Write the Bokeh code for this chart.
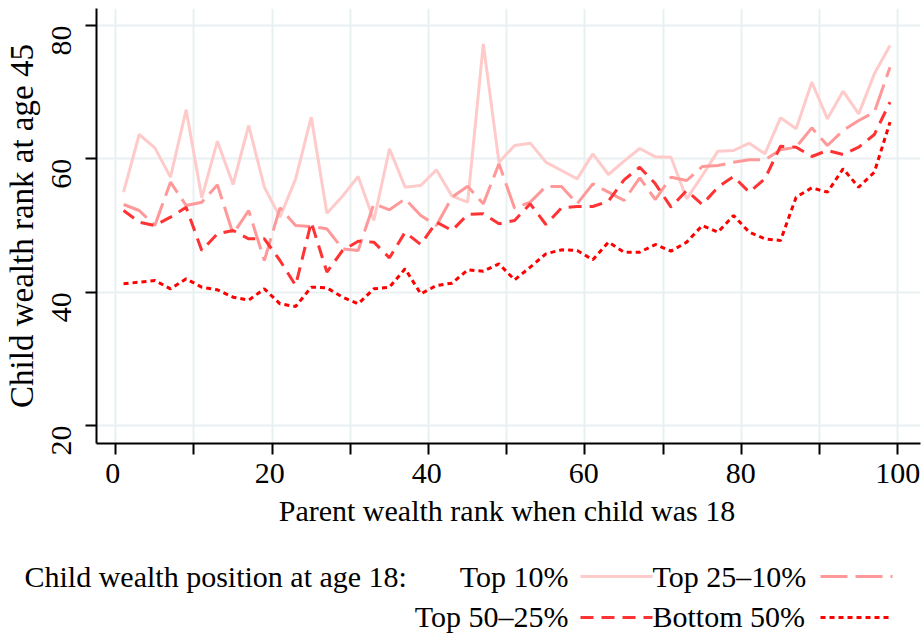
import math
from bokeh.plotting import figure
from bokeh.models import Range1d, FixedTicker
from bokeh.layouts import column, row
from bokeh.core.properties import value
from bokeh.embed import file_html
from bokeh.resources import INLINE

# ---- data -------------------------------------------------------------
parent_rank = list(range(1, 100, 2))

top10 = [55.0, 63.65, 61.65, 57.25, 67.35, 54.15, 62.65, 56.15, 65.0, 55.75,
         51.25, 57.0, 66.25, 51.85, 54.4, 57.35, 50.75, 61.5, 55.75, 56.0,
         58.35, 54.4, 53.5, 77.25, 59.5, 62.0, 62.35, 59.5, 58.25, 57.0,
         60.75, 57.65, 59.65, 61.55, 60.3, 60.25, 54.0, 57.5, 61.15, 61.25,
         62.35, 60.75, 66.15, 64.5, 71.5, 66.0, 70.15, 66.75, 72.75, 77.0]

top25_10 = [53.15, 52.25, 50.0, 56.5, 53.0, 53.5, 56.1, 48.75, 52.25, 44.75,
            52.65, 50.0, 49.85, 49.5, 46.5, 46.25, 53.25, 52.35, 54.0, 51.5,
            50.0, 54.25, 55.9, 53.25, 59.25, 52.6, 53.5, 55.85, 55.85, 53.25,
            56.25, 55.0, 53.75, 57.15, 53.9, 57.25, 56.75, 58.85, 59.0, 59.5,
            59.85, 59.85, 61.35, 61.75, 64.65, 62.0, 64.25, 65.75, 67.0, 73.75]

top50_25 = [52.25, 50.5, 50.0, 51.25, 52.75, 46.25, 48.75, 49.25, 48.0, 48.0,
            44.75, 41.0, 50.5, 43.0, 46.25, 47.65, 47.5, 45.15, 49.0, 47.15,
            50.5, 49.25, 51.65, 51.75, 50.25, 50.75, 53.25, 50.15, 52.65, 52.85,
            52.85, 53.65, 56.85, 58.75, 56.25, 52.75, 55.25, 53.15, 55.75, 57.35,
            55.0, 57.0, 61.9, 61.75, 60.35, 61.25, 60.65, 61.75, 63.65, 68.5]

bottom50 = [41.25, 41.5, 41.75, 40.5, 42.0, 40.75, 40.35, 39.25, 38.8, 40.5,
            38.25, 37.85, 40.75, 40.65, 39.25, 38.25, 40.5, 40.75, 43.5, 39.75,
            41.0, 41.35, 43.35, 43.15, 44.25, 41.85, 43.75, 45.75, 46.35, 46.25,
            44.85, 47.5, 46.0, 46.0, 47.15, 46.15, 47.5, 50.0, 49.0, 51.5,
            49.0, 48.0, 47.75, 54.25, 55.65, 55.0, 58.5, 55.75, 58.0, 65.5]

series_names = ["Top 10%", "Top 25\u201310%", "Top 50\u201325%", "Bottom 50%"]
series_values = [top10, top25_10, top50_25, bottom50]
series_colors = ["#ffcaca", "#ff9999", "#ff3333", "#ff0000"]
series_dash = ["solid", "27 8", "13 8", "5 4"]

x_major = [0, 20, 40, 60, 80, 100]
x_minor = [10, 30, 50, 70, 90]
x_labels = ["0", "20", "40", "60", "80", "100"]
y_major = [20, 40, 60, 80]
x_title = "Parent wealth rank when child was 18"
y_title = "Child wealth rank at age 45"
legend_title = "Child wealth position at age 18:"

FONT = "Liberation Serif"
GRID = "#e8f0f2"

# ---- layout geometry ----------------------------------------------------
W = 921
B_LEFT, B_RIGHT, B_TOP = 93, 1, 8
FW, FH = W - B_LEFT - B_RIGHT, 435
H1 = B_TOP + FH + 14          # main plot: frame + x ticks
H2 = 634 - H1                 # panel below: tick labels, x title, legend
X0, X1 = -2.46, 102.9
Y0, Y1 = 17.3, 82.55
SX = (X1 - X0) / FW           # x units per pixel
TXT_DY = 12                   # svg alphabetic-baseline correction


def px_x(px):
    """page pixel column -> shared x coordinate"""
    return X0 + (px - B_LEFT) * SX


# ---- main plot ----------------------------------------------------------
p = figure(width=W, height=H1, output_backend="svg", toolbar_location=None,
           x_range=Range1d(X0, X1), y_range=Range1d(Y0, Y1),
           min_border_left=B_LEFT, min_border_right=B_RIGHT,
           min_border_top=B_TOP, min_border_bottom=H1 - B_TOP - FH)
p.outline_line_color = None
p.background_fill_color = "white"
p.border_fill_color = "white"

for vals, col, dash in zip(series_values, series_colors, series_dash):
    p.line(parent_rank, vals, line_color=col, line_width=3, line_dash=dash)

xa = p.xaxis[0]
# all x tick marks drawn as (label-less) minor ticks; labels are in the panel below
xa.ticker = FixedTicker(ticks=[], minor_ticks=sorted(x_major + x_minor))
ya = p.yaxis[0]
ya.ticker = FixedTicker(ticks=y_major)
ya.axis_label = y_title
ya.major_label_orientation = math.pi / 2

for ax in (xa, ya):
    ax.axis_line_color = "black"
    ax.axis_line_width = 2
    ax.major_tick_line_color = "black"
    ax.major_tick_line_width = 2
    ax.major_tick_out = 11
    ax.major_tick_in = 0
    ax.minor_tick_line_color = "black"
    ax.minor_tick_line_width = 2
    ax.minor_tick_out = 11
    ax.minor_tick_in = 0
    ax.major_label_text_font = FONT
    ax.major_label_text_font_size = "30px"
    ax.major_label_text_color = "black"
    ax.axis_label_text_font = FONT
    ax.axis_label_text_font_size = "30px"
    ax.axis_label_text_font_style = "normal"
    ax.axis_label_text_color = "black"

xa.major_label_standoff = 0
ya.axis_label_text_font_size = "33px"
ya.minor_tick_line_color = None
ya.major_label_standoff = 24
ya.axis_label_standoff = 0

p.xgrid.ticker = FixedTicker(ticks=sorted(x_major + x_minor))
p.ygrid.ticker = FixedTicker(ticks=y_major)
for g in (p.xgrid[0], p.ygrid[0]):
    g.grid_line_color = GRID
    g.grid_line_width = 2

# ---- panel below: x tick labels, x title, legend -----------------------------
lg = figure(width=W, height=H2, output_backend="svg", toolbar_location=None,
            x_range=Range1d(px_x(0), px_x(W)), y_range=Range1d(H1 + H2, H1),
            x_axis_type=None, y_axis_type=None,
            min_border_left=0, min_border_right=0, min_border_top=0,
            min_border_bottom=0)
lg.outline_line_color = None
lg.xgrid.visible = False
lg.ygrid.visible = False
lg.background_fill_color = "white"
lg.border_fill_color = "white"

txt = dict(text_font=value(FONT), text_font_size="30px",
           text_baseline="alphabetic", text_color="black")

# x tick labels at the tick values
lg.text(x=x_major, y=[485 - TXT_DY] * len(x_major), text=x_labels,
        text_align="center", **txt)
# x axis title, centred on the plot frame
lg.text(x=[(X0 + X1) / 2], y=[522 - TXT_DY], text=[x_title],
        text_align="center", **txt)

# legend
row_text_py = [588, 588, 628, 628]
row_key_py = [576, 576, 617, 617]
label_px = [568, 652, 568, 652]
label_align = ["right", "left", "right", "left"]
key_px0 = [580, 820, 580, 820]
key_px1 = [652, 892, 652, 890]

lg.text(x=[px_x(24)], y=[588 - TXT_DY], text=[legend_title],
        text_align="left", **txt)
for i, name in enumerate(series_names):
    lg.text(x=[px_x(label_px[i])], y=[row_text_py[i] - TXT_DY], text=[name],
            text_align=label_align[i], **txt)
    lg.line([px_x(key_px0[i]), px_x(key_px1[i])],
            [row_key_py[i], row_key_py[i]],
            line_color=series_colors[i], line_width=3,
            line_dash=series_dash[i])

layout = column(p, row(lg))
open("out.html", "w").write(file_html(layout, INLINE))
